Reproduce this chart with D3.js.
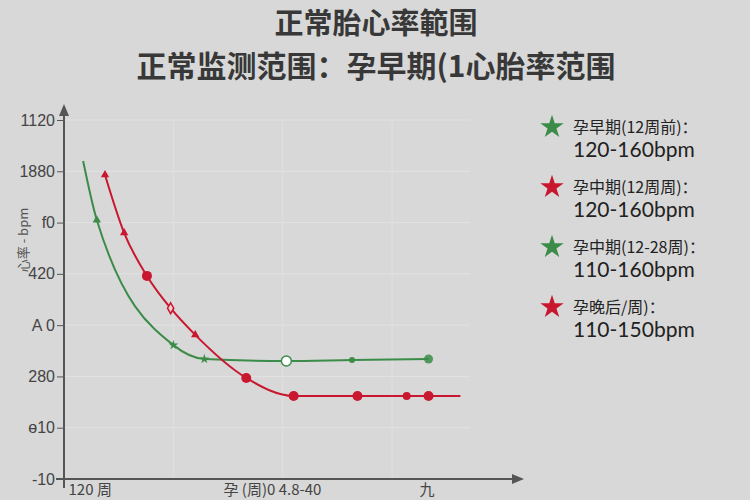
<!DOCTYPE html>
<html><head><meta charset="utf-8">
<script src="https://cdn.jsdelivr.net/npm/d3@7"></script>
<style>
html,body{margin:0;padding:0;background:#d8d8d8;}
svg{display:block;font-family:"Noto Sans CJK SC","Noto Sans",sans-serif;}
</style></head>
<body>
<script>
// ---- data ----
const titleLines = ["正常胎心率範围", "正常监测范围：孕早期(1心胎率范围"];
const yTickValues = [0, 1, 2, 3, 4, 5, 6, 7];
const yTickLabels = ["-10", "ɵ10", "280", "A 0", "420", "f0", "1880", "1120"];
const yAxisTitle = "心率 - bpm";
const xAxisLabels = ["120 周", "孕  (周)0  4.8-40", "九"];
const xAxisLabelWeeks = [0.5, 17.5, 39];
const greenWeeks  = [2.1, 3.6, 12.0, 15.4, 24.4, 31.6, 40.0];
const greenValues = [6.2, 5.05, 2.61, 2.34, 2.30, 2.32, 2.34];
const redWeeks  = [4.5, 6.6, 9.1, 11.7, 14.4, 20.0, 25.2, 32.2, 37.6, 40.0, 43.5];
const redValues = [5.93, 4.8, 3.96, 3.33, 2.81, 1.97, 1.62, 1.62, 1.62, 1.62, 1.62];
const legendNames  = ["孕早期(12周前)：", "孕中期(12周周)：", "孕中期(12-28周)：", "孕晚后/周)："];
const legendRanges = ["120-160bpm", "120-160bpm", "110-160bpm", "110-150bpm"];
const legendSeries = ["green", "red", "green", "red"];

// ---- styles ----
const colors = {green: "#3b8c48", red: "#c8172f"};
const greenMarks = ["none", "tri", "star", "star", "open", "dot", "half"];
const redMarks = ["tri", "tri", "circle", "opendia", "tri", "circle", "circle", "circle", "circlesm", "circle", "none"];

const W = 750, H = 500;
const svg = d3.select("body").append("svg").attr("width", W).attr("height", H);
svg.append("rect").attr("width", W).attr("height", H).attr("fill", "#d8d8d8");

const x = d3.scaleLinear().domain([0, 44]).range([64, 465]);
const y = d3.scaleLinear().domain([0, 7]).range([479, 120]);

// title
svg.append("text").attr("x", 376).attr("y", 34).attr("text-anchor", "middle")
  .attr("font-size", 29).attr("font-weight", 700).attr("fill", "#383838").text(titleLines[0]);
svg.append("text").attr("x", 376).attr("y", 77).attr("text-anchor", "middle")
  .attr("font-size", 30).attr("font-weight", 700).attr("fill", "#383838").text(titleLines[1]);

// gridlines
const g = svg.append("g");
g.selectAll("line.hg").data(yTickValues.slice(1)).join("line")
  .attr("x1", 64).attr("x2", 470).attr("y1", d => y(d)).attr("y2", d => y(d))
  .attr("stroke", "#e2e2e2").attr("stroke-width", 1);
g.selectAll("line.vg").data([12, 24, 36]).join("line")
  .attr("x1", d => x(d)).attr("x2", d => x(d)).attr("y1", 120).attr("y2", 479)
  .attr("stroke", "#e0e0e0").attr("stroke-width", 1);

// y axis
const yAxis = d3.axisLeft(y).tickValues(yTickValues).tickFormat((d, i) => yTickLabels[i]).tickSize(7).tickPadding(2);
const ya = svg.append("g").attr("transform", "translate(64,0)").call(yAxis);
ya.select(".domain").remove();
ya.selectAll("line").attr("stroke", "#555");
ya.selectAll("text").attr("font-size", 16).attr("fill", "#444").attr("font-family", "Liberation Sans, sans-serif");
svg.append("line").attr("x1", 64).attr("x2", 64).attr("y1", 112).attr("y2", 488).attr("stroke", "#555").attr("stroke-width", 2);
svg.append("path").attr("d", "M64,104 L59,116 L69,116 Z").attr("fill", "#555");

// x axis
const xAxis = d3.axisBottom(x).tickValues([]).tickSizeOuter(0);
const xa = svg.append("g").attr("transform", "translate(0,479)").call(xAxis);
xa.select(".domain").attr("stroke", "#555").attr("stroke-width", 2).attr("d", "M56,0H516");
svg.append("path").attr("d", "M524,479 L512,474 L512,484 Z").attr("fill", "#555");
svg.selectAll("text.xl").data(xAxisLabels).join("text")
  .attr("x", (d, i) => x(xAxisLabelWeeks[i])).attr("y", 495).attr("font-size", 15).attr("fill", "#444")
  .text(d => d);

// y axis title
svg.append("text").attr("transform", "translate(28,240) rotate(-90)").attr("text-anchor", "middle")
  .attr("font-size", 13).attr("fill", "#555").text(yAxisTitle);

// lines
const line = d3.line().curve(d3.curveMonotoneX);
const greenPts = greenWeeks.map((w, i) => [x(w), y(greenValues[i])]);
const redPts = redWeeks.map((w, i) => [x(w), y(redValues[i])]);
svg.append("path").attr("d", line(greenPts)).attr("fill", "none").attr("stroke", colors.green).attr("stroke-width", 2);
svg.append("path").attr("d", line(redPts)).attr("fill", "none").attr("stroke", colors.red).attr("stroke-width", 2);

function marker(p, type, col) {
  const gg = svg.append("g").attr("transform", `translate(${p[0]},${p[1]})`);
  if (type === "tri") gg.append("path").attr("d", d3.symbol(d3.symbolTriangle, 30)()).attr("fill", col);
  else if (type === "star") gg.append("path").attr("d", d3.symbol(d3.symbolStar, 30)()).attr("fill", col);
  else if (type === "circle") gg.append("circle").attr("r", 5).attr("fill", col);
  else if (type === "circlesm") gg.append("circle").attr("r", 4).attr("fill", col);
  else if (type === "dot") gg.append("circle").attr("r", 3).attr("fill", col);
  else if (type === "open") gg.append("circle").attr("r", 5).attr("fill", "#fff").attr("stroke", col).attr("stroke-width", 1.5);
  else if (type === "half") gg.append("circle").attr("r", 4.5).attr("fill", col).attr("opacity", 0.85);
  else if (type === "opendia") gg.append("path").attr("d", d3.symbol(d3.symbolDiamond, 34)()).attr("fill", "#f3d0d0").attr("stroke", col).attr("stroke-width", 1.5);
}
greenPts.forEach((p, i) => marker(p, greenMarks[i], colors.green));
redPts.forEach((p, i) => marker(p, redMarks[i], colors.red));

// legend
const lg = svg.append("g");
legendNames.forEach((name, i) => {
  const cy = 127 + i * 60;
  lg.append("path").attr("transform", `translate(552,${cy})`)
    .attr("d", d3.symbol(d3.symbolStar, 170)()).attr("fill", colors[legendSeries[i]]);
  lg.append("text").attr("x", 573).attr("y", cy + 6).attr("font-size", 16).attr("fill", "#222").text(name);
  lg.append("text").attr("x", 573).attr("y", cy + 30).attr("font-size", 21).attr("fill", "#222")
    .attr("font-family", "Lato, sans-serif").text(legendRanges[i]);
});
</script>
</body></html>
